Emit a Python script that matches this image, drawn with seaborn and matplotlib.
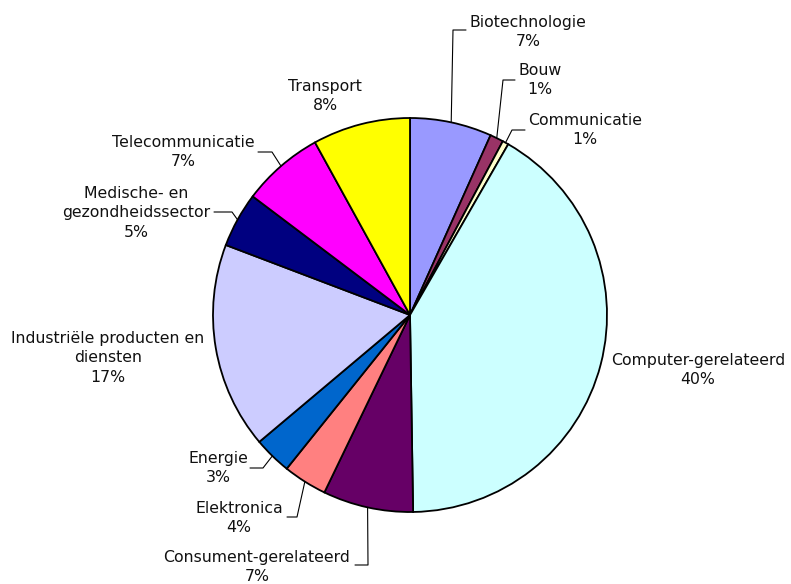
import numpy as np
import matplotlib
matplotlib.use("Agg")
import matplotlib.pyplot as plt
import seaborn as sns

# slices clockwise from 12 o'clock
sectors = ["Biotechnologie", "Bouw", "Communicatie", "Computer-gerelateerd",
           "Consument-gerelateerd", "Elektronica", "Energie",
           "Industriële producten en\ndiensten", "Medische- en\ngezondheidssector",
           "Telecommunicatie", "Transport"]
shares = [6.7, 1.1, 0.5, 41.4, 7.4, 3.6, 3.1, 16.9, 4.5, 6.7, 8.0]
pct_labels = ["7%", "1%", "1%", "40%", "7%", "4%", "3%", "17%", "5%", "7%", "8%"]
colors = ["#9999FF", "#993366", "#FFFFCC", "#CCFFFF", "#660066", "#FF8080",
          "#0066CC", "#CCCCFF", "#000080", "#FF00FF", "#FFFF00"]

sns.set_theme(style="white")
plt.rcParams["font.family"] = ["DejaVu Sans"]

W, H = 791, 584
CX, CY, R = 410, 315, 197

fig = plt.figure(figsize=(W / 100, H / 100), dpi=100)
ax = fig.add_axes([0, 0, 1, 1])
ax.pie(shares, colors=colors, startangle=90, counterclock=False, radius=1,
       wedgeprops=dict(edgecolor="black", linewidth=1.3))
ax.set_xlim(-CX / R, (W - CX) / R)
ax.set_ylim(-(H - CY) / R, CY / R)
ax.set_aspect("auto")
ax.axis("off")


def px(x, y):
    return (x - CX) / R, (CY - y) / R


# label block centres and leader knees, in pixels
label_pos = [(528, 32), (540, 80), (585, 130), (698, 370), (257, 567), (239, 518),
             (218, 468), (108, 358), (136, 213), (183, 152), (325, 96)]
leaders = {0: [(453, 30), (466, 30)], 1: [(503, 80), (515, 80)],
           2: [(512, 130), (525, 130)], 4: [(368, 565), (355, 565)],
           5: [(297, 517), (287, 517)], 6: [(263, 468), (250, 468)],
           8: [(232, 212), (214, 212)], 9: [(272, 152), (258, 152)]}

cum = np.cumsum([0] + shares)
total = cum[-1]
for i, name in enumerate(sectors):
    tx, ty = px(*label_pos[i])
    ax.text(tx, ty, name + "\n" + pct_labels[i], ha="center", va="center",
            fontsize=11.3, color="#111111", linespacing=1.4, multialignment="center")
    if i in leaders:
        mid = np.deg2rad((cum[i] + cum[i + 1]) / 2 / total * 360)
        pts = [(np.sin(mid), np.cos(mid))] + [px(*p) for p in leaders[i]]
        xs, ys = zip(*pts)
        ax.plot(xs, ys, color="black", linewidth=0.8)

fig.savefig("out.png", dpi=100)
